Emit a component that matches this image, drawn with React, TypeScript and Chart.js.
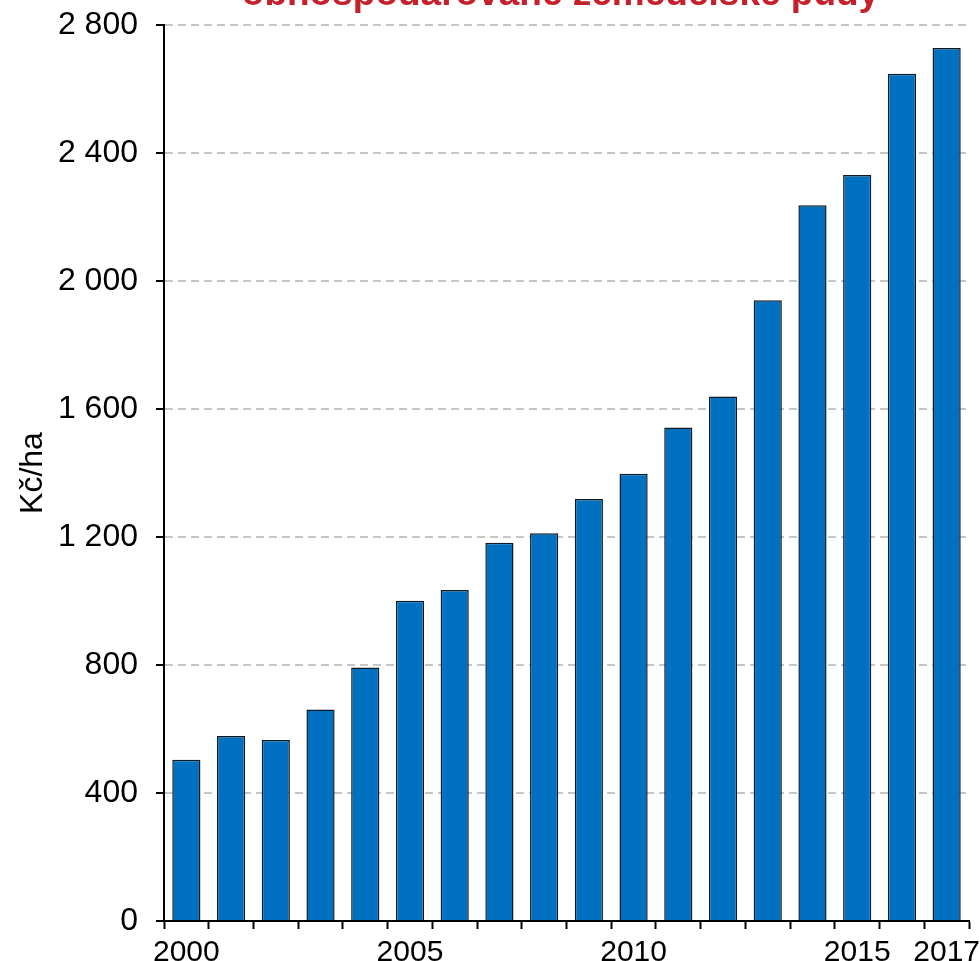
import React, { useEffect, useRef } from "react";
import { Chart, registerables } from "chart.js";

Chart.register(...registerables);

const years: string[] = [
  "2000", "2001", "2002", "2003", "2004", "2005", "2006", "2007", "2008",
  "2009", "2010", "2011", "2012", "2013", "2014", "2015", "2016", "2017",
];
const rentValues: number[] = [
  504, 578, 566, 661, 792, 1001, 1034, 1182, 1212,
  1319, 1398, 1542, 1639, 1940, 2237, 2331, 2648, 2728,
];
const shownYearLabels: string[] = ["2000", "2005", "2010", "2015", "2017"];
const yTicks: number[] = [0, 400, 800, 1200, 1600, 2000, 2400, 2800];
const titleText = "obhospodařované zemědělské půdy";
const yTitle = "Kč/ha";

const fmt = (v: number) => String(v).replace(/\B(?=(\d{3})+(?!\d))/g, " ");
const FONT = "'Liberation Sans', Arial, sans-serif";

const titlePlugin = {
  id: "clippedTitle",
  afterDraw(chart: any) {
    const { ctx, chartArea } = chart;
    ctx.save();
    ctx.font = `bold 37px ${FONT}`;
    ctx.fillStyle = "#C5202B";
    ctx.textAlign = "center";
    ctx.textBaseline = "alphabetic";
    ctx.fillText(titleText, (chartArea.left + chartArea.right) / 2 - 6, 5);
    ctx.restore();
  },
};

export default function App() {
  const ref = useRef<HTMLCanvasElement | null>(null);

  useEffect(() => {
    if (!ref.current) return;
    const chart = new Chart(ref.current, {
      type: "bar",
      data: {
        labels: years,
        datasets: [
          {
            data: rentValues,
            backgroundColor: "#0070C0",
            borderColor: "#0E1A26",
            borderWidth: 1.5,
            barPercentage: 0.63,
            categoryPercentage: 1,
          },
        ],
      },
      options: {
        responsive: false,
        animation: false,
        layout: { padding: { top: 25, right: 11, left: 0, bottom: 0 } },
        plugins: {
          legend: { display: false },
          tooltip: { enabled: false },
          title: { display: false },
        },
        scales: {
          x: {
            offset: true,
            grid: {
              offset: true,
              drawOnChartArea: false,
              drawTicks: true,
              tickLength: 8,
              tickColor: "#000",
              tickWidth: 2,
            },
            border: { display: true, color: "#000", width: 2 },
            ticks: {
              autoSkip: false,
              maxRotation: 0,
              minRotation: 0,
              padding: 6,
              color: "#000",
              font: { family: FONT, size: 30 },
              callback: (_v: any, i: number) =>
                shownYearLabels.includes(years[i]) ? years[i] : "",
            },
            afterFit: (s: any) => {
              s.height = 40;
              s.paddingLeft = 0;
              s.paddingRight = 0;
            },
          },
          y: {
            min: 0,
            max: 2800,
            afterBuildTicks: (s: any) => {
              s.ticks = yTicks.map((v) => ({ value: v }));
            },
            grid: {
              color: "#C6C6C6",
              lineWidth: 2,
              drawTicks: true,
              tickLength: 8,
              tickColor: "#000",
              tickWidth: 2,
            },
            border: { display: true, color: "#000", width: 2, dash: [8, 5] },
            ticks: {
              padding: 18,
              color: "#000",
              font: { family: FONT, size: 32 },
              callback: (v: any) => fmt(Number(v)),
            },
            title: {
              display: true,
              text: yTitle,
              color: "#000",
              font: { family: FONT, size: 32 },
              padding: { top: 14, bottom: 0 },
            },
            afterFit: (s: any) => {
              s.width = 164;
              s.paddingTop = 0;
              s.paddingBottom = 0;
            },
          },
        },
      },
      plugins: [titlePlugin],
    });
    return () => chart.destroy();
  }, []);

  return (
    <div style={{ position: "fixed", left: 0, top: 0, width: 980, height: 961, background: "#fff" }}>
      <canvas ref={ref} width={980} height={961} style={{ display: "block" }} />
    </div>
  );
}
